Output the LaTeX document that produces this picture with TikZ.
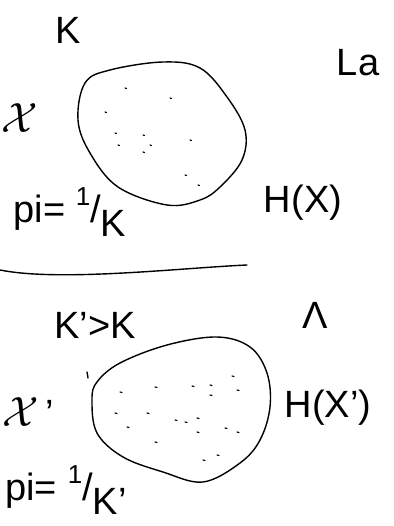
\documentclass[tikz,border=0pt]{standalone}
\usepackage{fontspec}
\setmainfont{Liberation Sans}
\usetikzlibrary{calc}

\newcommand{\frk}[1]{\raisebox{0.45em}{\fontsize{26}{28}\selectfont 1}/\raisebox{-0.35em}{#1}}

\begin{document}
\begin{tikzpicture}[
  x=1pt,y=-1pt,
  hand/.style={line width=1.4pt,line cap=round,line join=round},
  lab/.style={inner sep=0pt,font=\fontsize{38}{42}\selectfont},
  dot/.style={line width=1.2pt,line cap=round}
]
\useasboundingbox (0,0) rectangle (393,526);
% upper set
\node[lab] (k) at (68,30) {K};
\node[lab] (la) at (358,63) {La};
\node[lab] (x) at (20,118) {\scalebox{1.7}{$\mathcal{X}$}};
\draw[hand] plot[smooth cycle,tension=0.6] coordinates {(85,83) (110,70) (163,62) (200,68) (227,97) (245,130) (242,160) (220,187) (200,200) (167,205) (118,187) (90,153) (78,120)};
\foreach \p in {(125,88),(170,98),(105,112),(115,133),(118,145),(143,135),(150,145),(143,152),(190,140),(185,175),(198,185)}
  \draw[dot] \p -- ++(1.5,0.5);
\node[lab] (hx) at (303,203) {H(X)};
\node[lab] (p) at (70,212) {pi= \frk{K}};
% divider
\draw[hand] (0,270) .. controls (60,282) and (180,268) .. (247,265);
% lower set
\node[lab] (kk) at (95,325) {K'>K};
\node[lab] (gt) at (315,315) {Λ};
\node[lab] (x2) at (28,412) {\scalebox{1.7}{$\mathcal{X}$}\,'};
\draw[hand] (87,372) -- (88,378);
\draw[hand] plot[smooth cycle,tension=0.6] coordinates {(97,382) (120,363) (167,345) (217,337) (250,347) (267,373) (270,407) (260,440) (240,463) (203,482) (163,472) (123,457) (97,433) (92,400)};
\foreach \p in {(120,392),(155,387),(192,386),(210,385),(210,395),(232,376),(237,390),(115,413),(147,413),(127,427),(175,420),(185,422),(197,418),(197,432),(225,428),(237,432),(155,442),(203,460),(217,455)}
  \draw[dot] \p -- ++(2,0.5);
\node[lab] (hx2) at (328,408) {H(X')};
\node[lab] (p2) at (66,490) {pi= \frk{K'}};
\end{tikzpicture}
\end{document}
